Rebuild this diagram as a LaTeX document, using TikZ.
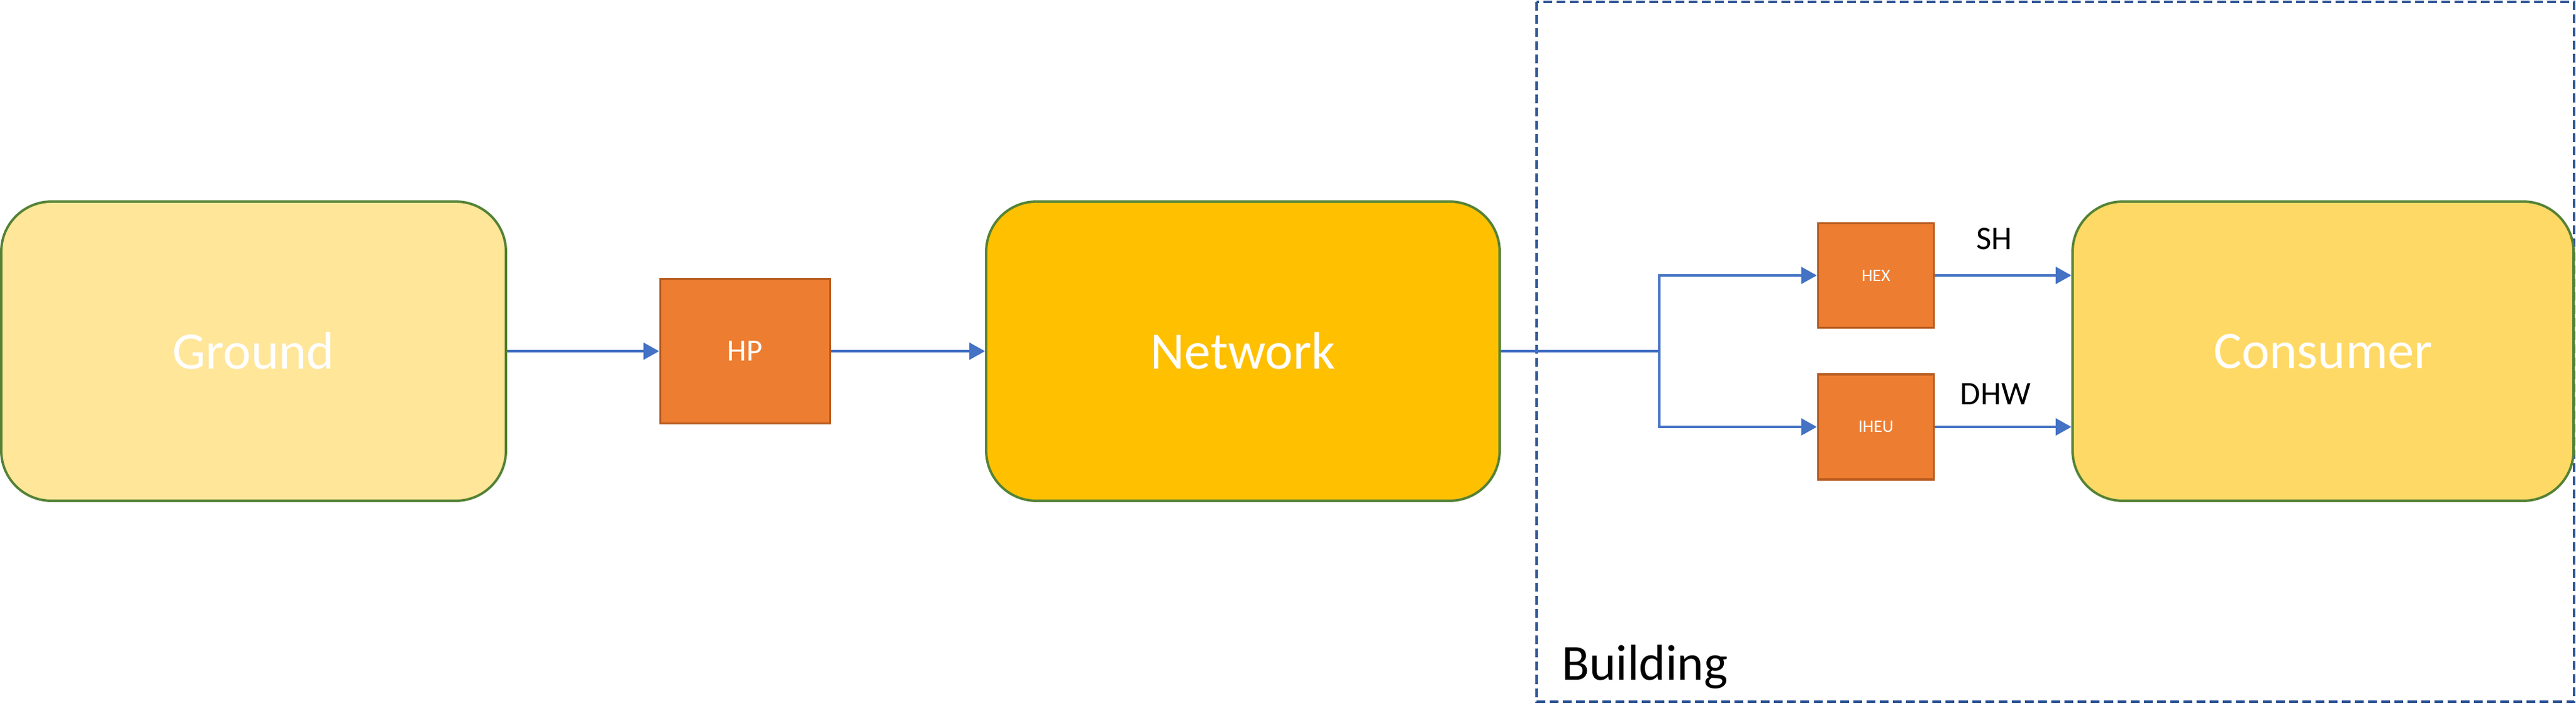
\documentclass[tikz,border=0pt]{standalone}
\usepackage{fontspec}
\setmainfont{Carlito}
\usetikzlibrary{arrows.meta}
\definecolor{groundfill}{HTML}{FFE699}
\definecolor{netfill}{HTML}{FFC000}
\definecolor{consfill}{HTML}{FFD966}
\definecolor{zoneline}{HTML}{548235}
\definecolor{unitfill}{HTML}{ED7D31}
\definecolor{unitline}{HTML}{B65A1F}
\definecolor{flowblue}{HTML}{4472C4}
\definecolor{bldline}{HTML}{2F5597}
\begin{document}
\begin{tikzpicture}[
    zone/.style={draw=zoneline, line width=1.1pt, rounded corners=0.8cm, inner sep=0pt,
      minimum height=4.78cm, text=white, font=\fontsize{24}{29}\selectfont},
    unit/.style={draw=unitline, line width=1.1pt, fill=unitfill, inner sep=0pt, text=white},
    flow/.style={draw=flowblue, line width=0.9pt},
    flowarrow/.style={flow, -{Triangle[length=0.25cm, width=0.27cm]}}
  ]
  \useasboundingbox (0,0) rectangle (41.14,-11.62);
  \draw[bldline, line width=0.9pt, dash pattern=on 4pt off 2pt]
    (24.54,-0.03) rectangle (41.11,-11.21);
  \node[anchor=base west, font=\fontsize{23}{28}\selectfont] (bld) at (24.82,-10.86) {Building};
  \node[zone, fill=groundfill, minimum width=8.06cm] (ground) at (4.05,-5.61) {Ground};
  \node[unit, minimum width=2.71cm, minimum height=2.31cm, font=\fontsize{14}{17}\selectfont] (hp) at (11.9,-5.61) {HP};
  \node[zone, fill=netfill, minimum width=8.2cm] (network) at (19.85,-5.61) {Network};
  \node[zone, fill=consfill, minimum width=8.0cm] (consumer) at (37.1,-5.61) {Consumer};
  \node[unit, minimum width=1.85cm, minimum height=1.67cm, font=\fontsize{8}{10}\selectfont] (hex) at (29.96,-4.4) {HEX};
  \node[unit, minimum width=1.85cm, minimum height=1.68cm, font=\fontsize{8}{10}\selectfont] (iheu) at (29.96,-6.82) {IHEU};
  \node[font=\fontsize{15}{18}\selectfont] (sh) at (31.85,-3.82) {SH};
  \node[font=\fontsize{15}{18}\selectfont] (dhw) at (31.87,-6.3) {DHW};
  \coordinate (split) at (26.5,-5.61);
  \draw[flowarrow] (ground.east) -- (hp.west);
  \draw[flowarrow] (hp.east) -- (network.west);
  \draw[flow] (network.east) -- (split);
  \draw[flowarrow] (split) |- (hex.west);
  \draw[flowarrow] (split) |- (iheu.west);
  \draw[flowarrow] (hex.east) -- (hex.east -| consumer.west);
  \draw[flowarrow] (iheu.east) -- (iheu.east -| consumer.west);
\end{tikzpicture}
\end{document}
